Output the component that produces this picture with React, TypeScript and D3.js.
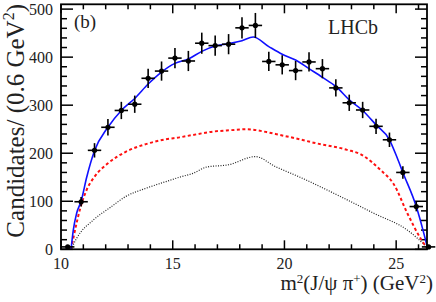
import React from "react";
import * as d3 from "d3";

const binCenters = [10.3,10.9,11.5,12.1,12.7,13.3,13.9,14.5,15.1,15.7,16.3,16.9,17.5,18.1,18.7,19.3,19.9,20.5,21.1,21.7,22.3,22.9,23.5,24.1,24.7,25.3,25.9,26.45];
const counts = [5,99,206,254,289,302,356,371,398,392,429,424,427,461,466,391,384,372,390,376,336,305,290,256,228,160,89,5];
const errors = [3,10,15,17,18,18,20,20,21,21,22,21,21,22,26,20,20,20,20,20,18,17,17,16,15,13,10,3];

const totalX = [10.45,10.55,10.7,10.9,11.15,11.5,12.1,12.7,13.3,13.9,14.5,15.1,15.7,16.3,16.9,17.5,18.1,18.6,19.3,19.9,20.5,21.1,21.7,22.3,22.9,23.5,24.1,24.7,25.05,25.3,25.9,26.2,26.42];
const totalY = [0,40,75,100,150,205,254,289,314,344,369,387,396,412,423,428,434,442,422,406,394,376,358,339,311,289,259,228,190,160,89,40,0];

const sigX = [10.45,10.7,10.9,11.15,11.5,12.1,12.9,13.8,14.7,15.3,15.9,16.8,17.6,18.3,19.2,19.8,20.5,21.3,22.8,23.4,23.9,24.3,24.9,25.5,26.1,26.42];
const sigY = [0,55,92,124,151,179,203,219,229,233,238,245,248,250,244,238,231,222,207,198,182,165,135,75,22,0];

const bkgX = [10.45,10.7,11.45,12.2,12.9,13.8,14.7,15.3,15.9,16.5,17.5,18.7,19.6,20.7,22.5,24.0,25.5,26.42];
const bkgY = [0,23,61,87,110,127,141,150,158,171,176,193,172,150,110,75,40,3];

const xTicks = [10,15,20,25];
const yTicks = [0,100,200,300,400,500];

const W = 436, H = 302;
const L = 61, R = 427, T = 4.3, B = 249.3;
const font = "'Liberation Serif', 'Times New Roman', serif";

export default function App() {
  const x = d3.scaleLinear().domain([10, 26.38]).range([L, R]);
  const y = d3.scaleLinear().domain([0, 510]).range([B, T]);
  const line = d3.line<[number, number]>().x(d => x(d[0])).y(d => y(d[1])).curve(d3.curveMonotoneX);
  const totalPath = line(totalX.map((v, i) => [v, totalY[i]]))!;
  const sigPath = line(sigX.map((v, i) => [v, sigY[i]]))!;
  const bkgPath = line(bkgX.map((v, i) => [v, bkgY[i]]))!;

  const xMinor = d3.range(10, 27, 1).filter(v => x(v) <= R + 0.1);
  const yMinor = d3.range(0, 511, 20);

  return (
    <svg width={W} height={H} style={{ position: "absolute", left: 0, top: 0, background: "#fff" }}>
      <g fill="none" stroke="#000" strokeWidth={1.5}>
        {xMinor.map(v => {
          const major = xTicks.includes(v);
          const len = major ? 9 : 5;
          return (
            <g key={"xt" + v}>
              <line x1={x(v)} x2={x(v)} y1={B} y2={B - len} />
              <line x1={x(v)} x2={x(v)} y1={T} y2={T + len} />
            </g>
          );
        })}
        {yMinor.map(v => {
          const major = yTicks.includes(v);
          const len = major ? 12 : 6;
          return (
            <g key={"yt" + v}>
              <line x1={L} x2={L + len} y1={y(v)} y2={y(v)} />
              <line x1={R} x2={R - len} y1={y(v)} y2={y(v)} />
            </g>
          );
        })}
      </g>

      <path d={bkgPath} fill="none" stroke="#222" strokeWidth={1.2} strokeDasharray="1,1.5" />
      <path d={sigPath} fill="none" stroke="#ff1010" strokeWidth={2} strokeDasharray="3,2.5" />
      <path d={totalPath} fill="none" stroke="#1010ff" strokeWidth={1.6} />

      <g stroke="#000" strokeWidth={1.6}>
        {binCenters.map((c, i) => (
          <g key={"d" + i}>
            <line x1={x(c - 0.3)} x2={x(c + 0.3)} y1={y(counts[i])} y2={y(counts[i])} />
            <line x1={x(c)} x2={x(c)} y1={y(counts[i] - errors[i])} y2={y(counts[i] + errors[i])} />
            <circle cx={x(c)} cy={y(counts[i])} r={2.6} fill="#000" stroke="none" />
          </g>
        ))}
      </g>

      <rect x={L} y={T} width={R - L} height={B - T} fill="none" stroke="#000" strokeWidth={1.8} />

      <g fontFamily={font} fontSize={16} fill="#222">
        {xTicks.map(v => (
          <text key={"xl" + v} x={x(v)} y={268.5} textAnchor="middle">{v}</text>
        ))}
        {yTicks.map(v => (
          <text key={"yl" + v} x={53} y={y(v) + 5.5} textAnchor="end">{v}</text>
        ))}
      </g>

      <text x={433} y={290} textAnchor="end" fontFamily={font} fontSize={21} fill="#222">
        m<tspan fontSize={13} dy={-7}>2</tspan><tspan dy={7}>(J/ψ π</tspan><tspan fontSize={13} dy={-7}>+</tspan><tspan dy={7}>) (GeV</tspan><tspan fontSize={13} dy={-7}>2</tspan><tspan dy={7}>)</tspan>
      </text>
      <text transform="translate(24,4) rotate(-90)" textAnchor="end" fontFamily={font} fontSize={25} fill="#222">
        Candidates/ (0.6 GeV<tspan fontSize={16} dy={-10}>2</tspan><tspan dy={10}>)</tspan>
      </text>

      <text x={74} y={28} fontFamily={font} fontSize={19} fill="#222">(b)</text>
      <text x={328} y={34} fontFamily={font} fontSize={20} fill="#222">LHCb</text>
    </svg>
  );
}
